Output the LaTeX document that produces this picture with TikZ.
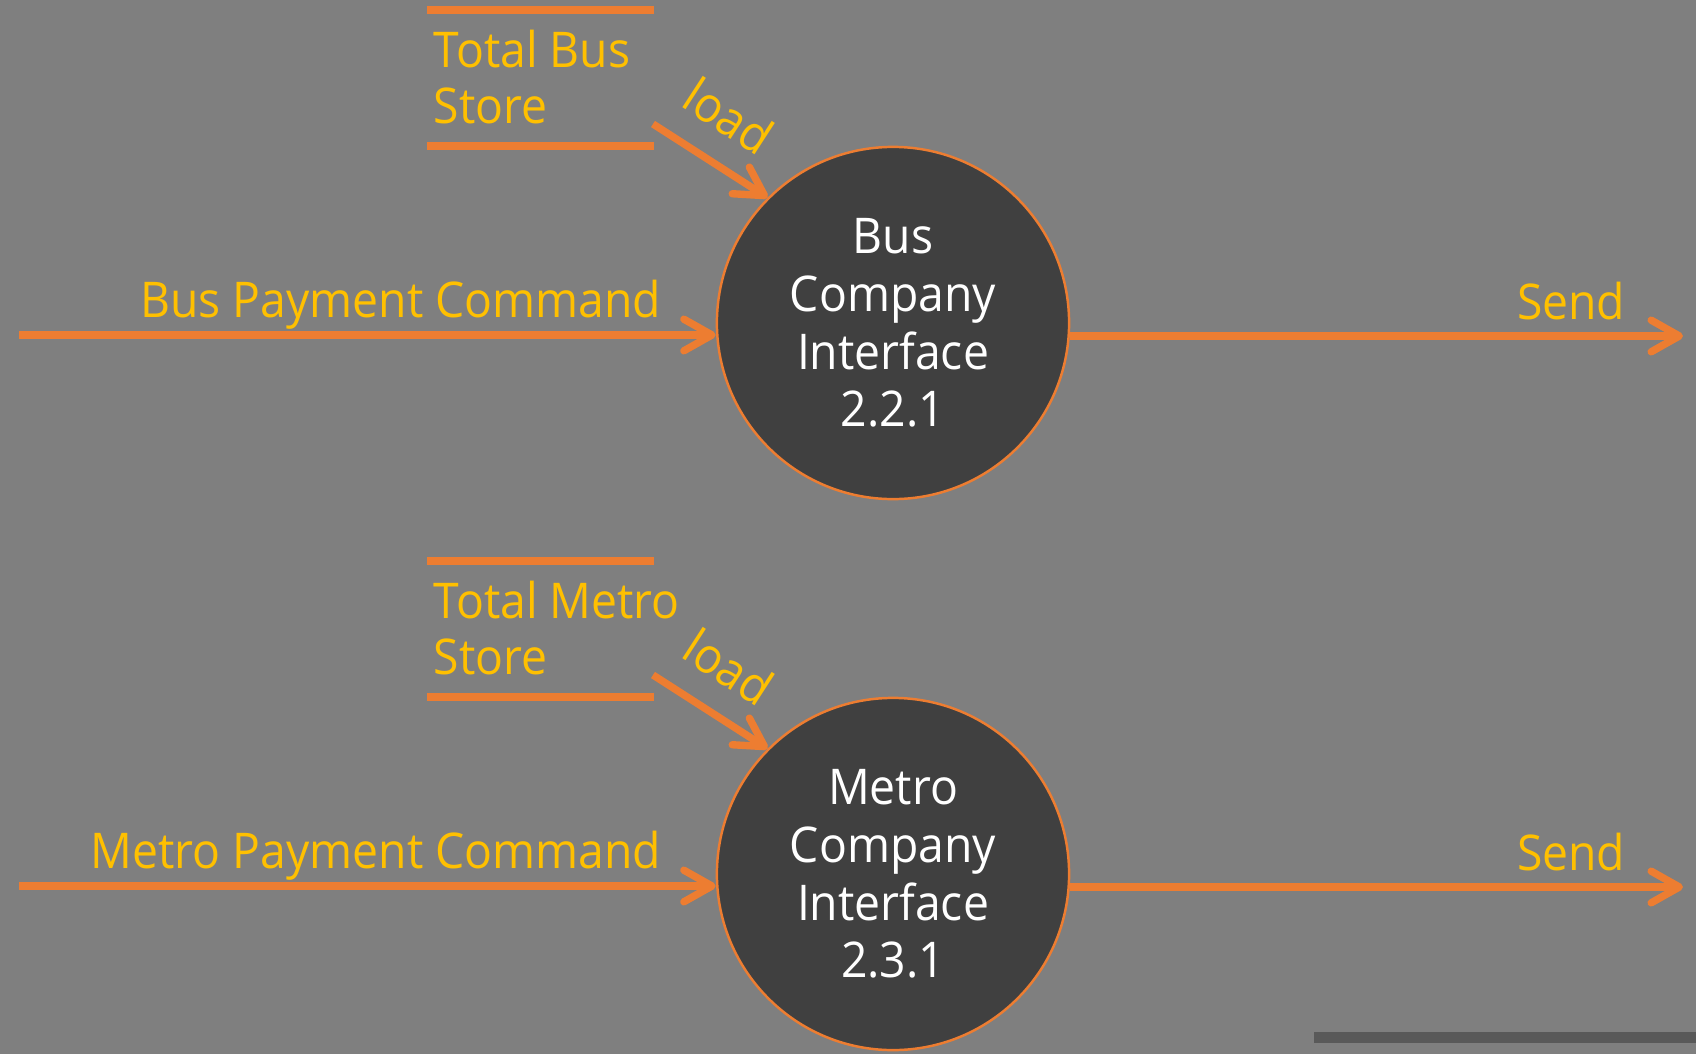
\documentclass[tikz,border=0pt]{standalone}
\usepackage{fontspec}
\setmainfont{Open Sans}[FakeStretch=0.94]
\usetikzlibrary{arrows.meta}
\definecolor{bggray}{HTML}{7F7F7F}
\definecolor{flowor}{HTML}{ED7D31}
\definecolor{txtyel}{HTML}{FFC000}
\definecolor{procgray}{HTML}{404040}
\definecolor{bargray}{HTML}{595959}

\begin{document}
\begin{tikzpicture}[x=0.01cm,y=-0.01cm,
  flow/.style={draw=flowor,line width=2.1pt,
    -{Straight Barb[length=8pt,width=9pt,line width=2.1pt,round]}},
  storeline/.style={draw=flowor,line width=2.1pt},
  proc/.style={circle,draw=flowor,line width=0.7pt,fill=procgray,
    minimum size=3.52cm,inner sep=0pt,text=white,align=center,
    font=\fontsize{14}{16.4}\selectfont},
  lbl/.style={text=txtyel,inner sep=0pt,align=left,
    font=\fontsize{14}{15.9}\selectfont}]

\fill[bggray] (0,0) rectangle (1696,1054);
\useasboundingbox (0,0) rectangle (1696,1054);

\foreach \i/\y/\nm/\num in {1/0/Bus/2.2.1,2/551/Metro/2.3.1}
{
% process and data store
\node[proc] (p\i) at (893,323+\y) {\nm\\Company\\Interface\\\num};
\draw[storeline] (427,10+\y) -- (654,10+\y) (427,146+\y) -- (654,146+\y);
\node[lbl,anchor=base west] (s\i) at (433,123+\y) {Total \nm\\Store};

\coordinate (ld\i) at (653,124+\y) ;
\coordinate (in\i) at (19,335+\y) ;
\coordinate (out\i) at (1683,336+\y) ;

\draw[flow] (ld\i) -- (p\i.135);
\draw[flow] (in\i) -- (in\i -| p\i.west);
\draw[flow] (out\i -| p\i.east) -- (out\i);

\node[lbl,rotate=-33] (l\i) at (729,116+\y) {load};
\node[lbl,anchor=base east] (c\i) at (662,317+\y) {\nm{} Payment Command};
\node[lbl,anchor=base east] (o\i) at (1626,319+\y) {Send};
}

\fill[bargray] (1314,1032) rectangle (1696,1043);
\end{tikzpicture}
\end{document}
